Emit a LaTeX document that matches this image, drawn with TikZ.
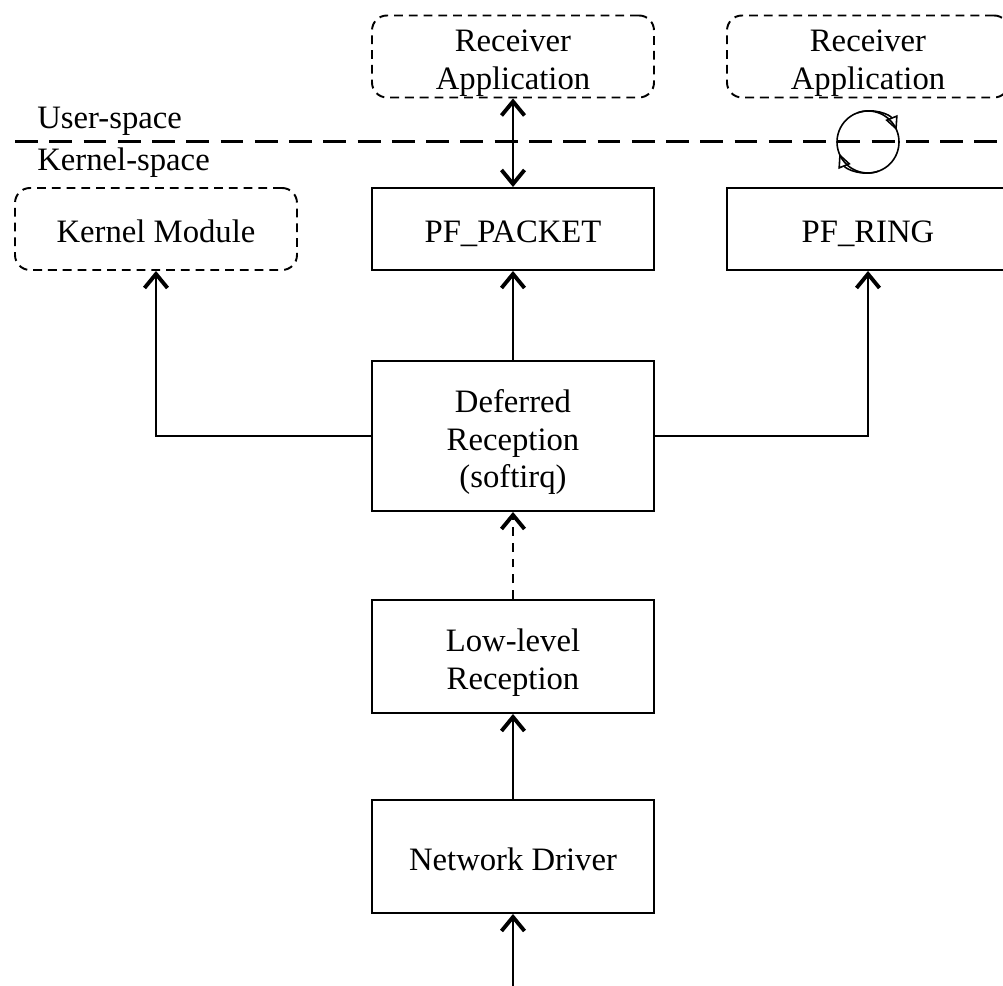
\documentclass[tikz,border=0pt]{standalone}
\usepackage{fontspec}
\setmainfont{Liberation Serif}
\usetikzlibrary{
  arrows.meta,
  positioning,
  calc
}
\newcommand{\topgap}{\rule{0pt}{20pt}}

\begin{document}
\begin{tikzpicture}[
  every node/.style={font=\fontsize{18.6}{21.4}\selectfont},
  layer/.style={draw, line width=1.1pt, minimum width=5.64cm,
                minimum height=1.64cm, align=center, inner sep=0pt},
  oneline/.style={text height=17pt, text depth=1.3pt},
  ext/.style={layer, dash pattern=on 5pt off 3.4pt, rounded corners=0.3cm},
  flow/.style={line width=1.1pt,
               -{Straight Barb[length=0.28cm, width=0.46cm, line width=2.2pt]}},
  >={Straight Barb[length=0.28cm, width=0.46cm, line width=2.2pt]}
]
\useasboundingbox (0,0) rectangle (20.06,19.72);

% user-space applications
\node[ext] (recvpkt) at (10.26, 18.59) {\topgap Receiver\\Application};
\node[ext] (recvring) at (17.36, 18.59) {\topgap Receiver\\Application};

% user/kernel boundary
\coordinate (splitL) at (0.3, 16.88);
\coordinate (splitR) at (20.2, 16.88);
\draw[line width=1.7pt, dash pattern=on 13pt off 6.5pt] (splitL) -- (splitR);
\node[anchor=west, inner sep=0pt] (userlbl) at (0.74, 17.3) {User-space};
\node[anchor=west, inner sep=0pt] (kernlbl) at (0.74, 16.46) {Kernel-space};

% kernel-space consumers
\node[ext, oneline] (kmod) at (3.12, 15.14) {Kernel Module};
\node[layer, oneline] (pfpacket) at (10.26, 15.14) {PF\_PACKET};
\node[layer, oneline] (pfring) at (17.36, 15.14) {PF\_RING};

% reception path
\node[layer, minimum height=3cm] (deferred) at (10.26, 11.0)
  {\topgap Deferred\\Reception\\(softirq)};
\node[layer, minimum height=2.26cm] (lowlevel) at (10.26, 6.59)
  {\topgap Low-level\\Reception};
\node[layer, oneline, minimum height=2.26cm] (netdrv) at (10.26, 2.59)
  {Network Driver};
\coordinate (wire) at (10.26, 0);

% ring loop
\node[draw, circle, line width=0.9pt, minimum size=1.24cm, inner sep=0pt]
  (ringloop) at (17.36, 16.88) {};
\draw[line width=0.9pt, -{Triangle[open, length=0.28cm, width=0.26cm]}]
  ($(ringloop)+(110:0.62)$) arc[start angle=110, end angle=22, radius=0.62];
\draw[line width=0.9pt, -{Triangle[open, length=0.28cm, width=0.26cm]}]
  ($(ringloop)+(290:0.62)$) arc[start angle=290, end angle=202, radius=0.62];

% Arrows
\draw[flow] (wire) -- (netdrv);
\draw[flow] (netdrv) -- (lowlevel);
\draw[flow, dash pattern=on 5pt off 4pt] (lowlevel) -- (deferred);
\draw[flow] (deferred) -- (pfpacket);
\draw[flow] (deferred.west) -| (kmod.south);
\draw[flow] (deferred.east) -| (pfring.south);
\draw[flow, <->] (pfpacket) -- (recvpkt);

\end{tikzpicture}
\end{document}
